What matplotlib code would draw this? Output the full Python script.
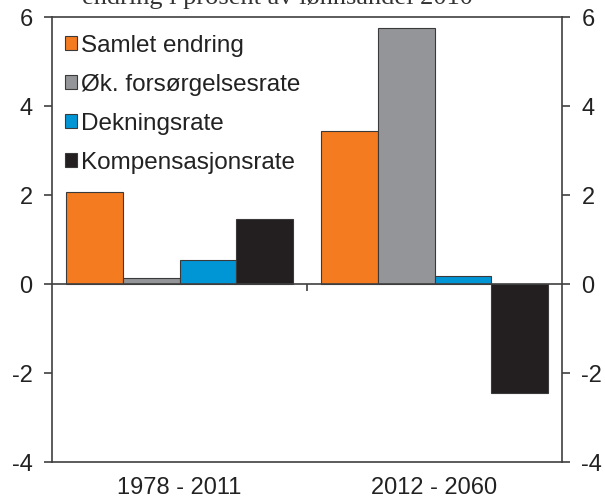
import matplotlib.pyplot as plt
import numpy as np

plt.rcParams['font.family'] = ['Liberation Sans', 'DejaVu Sans']

periods = ['1978 - 2011', '2012 - 2060']
series = ['Samlet endring', 'Øk. forsørgelsesrate', 'Dekningsrate', 'Kompensasjonsrate']
values = {
    'Samlet endring': [2.07, 3.44],
    'Øk. forsørgelsesrate': [0.13, 5.75],
    'Dekningsrate': [0.54, 0.18],
    'Kompensasjonsrate': [1.46, -2.45],
}
colors = ['#F47B20', '#939598', '#0096D6', '#231F20']

fig = plt.figure(figsize=(6.05, 5.03), dpi=100)
ax = fig.add_axes([0.086, 0.0815, 0.843, 0.8845])

x = np.arange(len(periods))
width = 0.2225
for i, name in enumerate(series):
    offset = (i - 1.5) * width
    ax.bar(x + offset, values[name], width, color=colors[i], edgecolor='#3a3a3a',
           linewidth=0.8, label=name, zorder=2)

ax.set_xlim(-0.5, 1.5)
ax.set_ylim(-4, 6)
ax.set_yticks([-4, -2, 0, 2, 4, 6])
ax.set_yticklabels(['-4', '-2', '0', '2', '4', '6'])
ax.set_xticks(x)
ax.set_xticklabels(periods)

spine_col = '#404040'
for s in ax.spines.values():
    s.set_color(spine_col)
    s.set_linewidth(1.2)

ax.tick_params(axis='y', which='both', direction='out', length=6, width=1.2,
               color=spine_col, labelsize=17, labelcolor='#222222', pad=8,
               left=True, right=True, labelleft=True, labelright=True)
ax.tick_params(axis='x', length=0, labelsize=17, labelcolor='#222222', pad=11)

# zero line with a tick between the two periods
ax.axhline(0, color=spine_col, linewidth=1.2, zorder=3)
sec = ax.secondary_xaxis(0.4)
sec.set_xticks([0.5])
sec.set_xticklabels([])
sec.tick_params(direction='out', length=5, width=1.2, color=spine_col)
sec.spines['bottom'].set_visible(False)

leg = ax.legend(loc='upper left', bbox_to_anchor=(-0.006, 0.996), frameon=False,
                fontsize=17.5, handlelength=0.5, handleheight=0.5,
                handletextpad=0.15, labelspacing=0.7, borderaxespad=0.25)
for t in leg.get_texts():
    t.set_color('#222222')

# title of the original is cut at the top edge
fig.text(0.458, 0.992, 'endring i prosent av lønnsandel 2010', ha='center', va='baseline',
         fontsize=19, family='Liberation Serif', color='#333333')

fig.savefig('out.png', dpi=100)
